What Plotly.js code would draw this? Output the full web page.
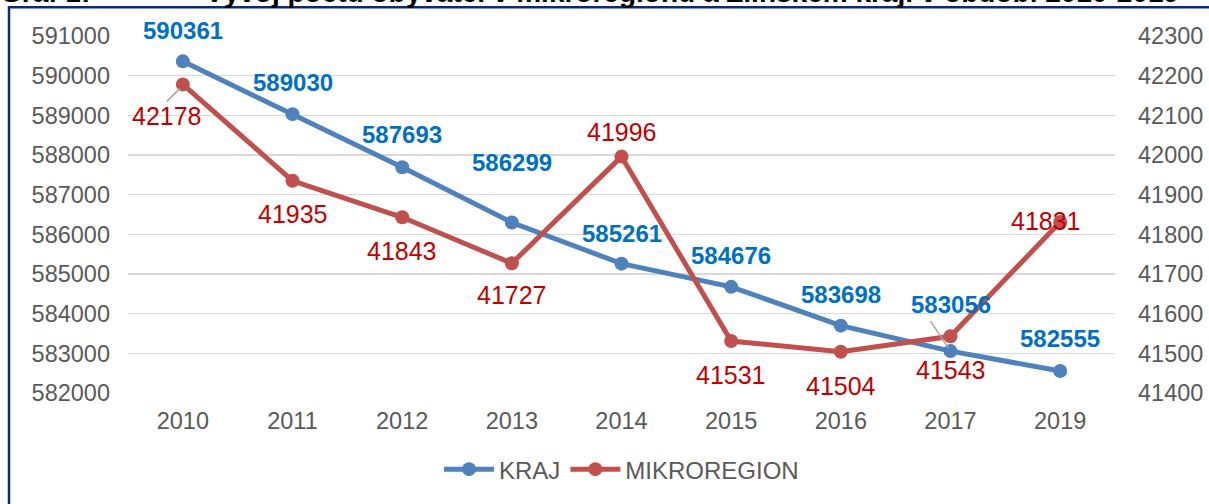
<!DOCTYPE html>
<html><head><meta charset="utf-8">
<script src="https://cdn.plot.ly/plotly-3.0.1.min.js"></script>
<style>html,body{margin:0;padding:0;background:#fff;overflow:hidden}#chart{width:1209px;height:504px}</style>
</head><body><div id="chart"></div>
<script>
// ---- data ----
const years = ['2010','2011','2012','2013','2014','2015','2016','2017','2019'];
const kraj = [590361,589030,587693,586299,585261,584676,583698,583056,582555];
const mikroregion = [42178,41935,41843,41727,41996,41531,41504,41543,41831];
const leftTicks = [582000,583000,584000,585000,586000,587000,588000,589000,590000,591000];
const rightTicks = [41400,41500,41600,41700,41800,41900,42000,42100,42200,42300];
const seriesNames = ['KRAJ','MIKROREGION'];
const titleLead = 'Graf 1:';
const titleText = 'Vývoj počtu obyvatel v mikroregionu a Zlínském kraji v období 2010-2019';

// ---- styles / label offsets (pixels, screen-down positive) ----
const FONT = 'Arial, Liberation Sans, sans-serif';
const blueLine = '#4F81BD', redLine = '#C0504D';
const blueLab = '#0070C0', redLab = '#C00000';
const tickCol = '#595959';
const krajOff = [[0,-31],[0,-32],[0,-33],[0,-60],[0,-30],[0,-31],[0,-31],[0,-47],[0,-32]];
const mikroOff = [[-16,32],[0,33],[0,34],[0,32],[0,-25],[0,34],[0,34],[0,34],[-14,-1]];

const traces = [
  {x: years, y: kraj, name: seriesNames[0], type: 'scatter', mode: 'lines+markers',
   line: {color: blueLine, width: 5}, marker: {color: blueLine, size: 14}, yaxis: 'y'},
  {x: years, y: mikroregion, name: seriesNames[1], type: 'scatter', mode: 'lines+markers',
   line: {color: redLine, width: 5}, marker: {color: redLine, size: 14}, yaxis: 'y2'}
];

const annotations = [];
years.forEach((yr, i) => {
  annotations.push({x: i, y: kraj[i], xref: 'x', yref: 'y', text: String(kraj[i]), showarrow: false,
    xshift: krajOff[i][0], yshift: -krajOff[i][1],
    font: {family: FONT, size: 24, color: blueLab, weight: 'bold'}});
  annotations.push({x: i, y: mikroregion[i], xref: 'x', yref: 'y2', text: String(mikroregion[i]), showarrow: false,
    xshift: mikroOff[i][0], yshift: -mikroOff[i][1],
    font: {family: FONT, size: 25, color: redLab}});
});
// clipped title above the frame
const PL = 128, PW = 987, PB = 395, PH = 359;
const px2x = p => (p - PL) / PW;
const py2y = p => (PB - p) / PH;
annotations.push({xref: 'paper', yref: 'paper', x: px2x(-2), y: py2y(10), xanchor: 'left', yanchor: 'bottom',
  text: titleLead, showarrow: false, font: {family: FONT, size: 28, color: '#000', weight: 'bold'}});
annotations.push({xref: 'paper', yref: 'paper', x: px2x(203), y: py2y(10), xanchor: 'left', yanchor: 'bottom',
  text: titleText, showarrow: false, font: {family: FONT, size: 28, color: '#000', weight: 'bold'}});

const shapes = [
  {type: 'rect', xref: 'paper', yref: 'paper', x0: px2x(9), x1: px2x(1230), y0: py2y(530), y1: py2y(7),
   line: {color: '#0E2A6E', width: 2.5}, fillcolor: 'rgba(0,0,0,0)', layer: 'above'},
  // leader lines
  {type: 'line', xref: 'x', yref: 'y2', xsizemode: 'pixel', ysizemode: 'pixel',
   xanchor: 0, yanchor: mikroregion[0], x0: -16, x1: -3, y0: -17, y1: -4,
   line: {color: '#A6A6A6', width: 1.5}},
  {type: 'line', xref: 'x', yref: 'y', xsizemode: 'pixel', ysizemode: 'pixel',
   xanchor: 7, yanchor: kraj[7], x0: -20, x1: -2, y0: 30, y1: 3,
   line: {color: '#A6A6A6', width: 1.5}}
];

const tickFont = {family: FONT, size: 23.5, color: tickCol};
const layout = {
  width: 1209, height: 504,
  margin: {l: PL, r: 1209 - PL - PW, t: PB - PH, b: 504 - PB},
  paper_bgcolor: '#fff', plot_bgcolor: '#fff',
  showlegend: true,
  legend: {orientation: 'h', x: 0.5, xanchor: 'center', y: py2y(472), yanchor: 'middle',
    font: {family: FONT, size: 24, color: tickCol}, itemwidth: 50, tracegroupgap: 0},
  xaxis: {type: 'category', range: [-0.5, years.length - 0.5], showgrid: false, zeroline: false, showline: false,
    ticks: '', tickfont: tickFont, ticklabelstandoff: 11},
  yaxis: {range: [leftTicks[0], leftTicks[leftTicks.length - 1]], tickvals: leftTicks, ticktext: leftTicks.map(String),
    showgrid: true, gridcolor: '#D9D9D9', gridwidth: 1.5, zeroline: false, showline: false, ticks: '',
    tickfont: tickFont, ticklabelstandoff: 17},
  yaxis2: {overlaying: 'y', side: 'right', range: [rightTicks[0], rightTicks[rightTicks.length - 1]],
    tickvals: rightTicks, ticktext: rightTicks.map(String), showgrid: false, zeroline: false, showline: false,
    ticks: '', tickfont: tickFont, ticklabelstandoff: 22},
  annotations: annotations,
  shapes: shapes
};
Plotly.newPlot('chart', traces, layout, {displayModeBar: false, staticPlot: true});
</script></body></html>
